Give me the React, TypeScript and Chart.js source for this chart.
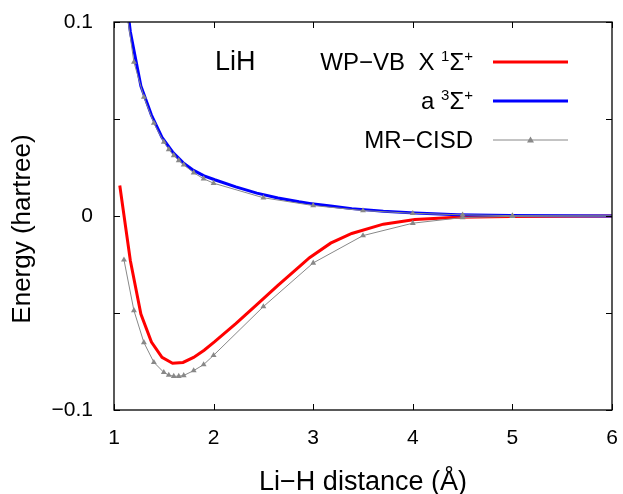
import React, { useEffect, useRef } from "react";
import { Chart, registerables } from "chart.js";

Chart.register(...registerables);

// WP-VB curves (grid in Å, from a bohr grid)
const wpvbR = [1.058, 1.164, 1.270, 1.376, 1.482, 1.588, 1.693, 1.799, 1.905, 2.011, 2.223, 2.434, 2.646, 2.858, 2.963, 3.175, 3.387, 3.704, 4.022, 4.445, 4.974, 5.503, 6.0];
const wpvbX = [0.0157, -0.0229, -0.0505, -0.065, -0.0729, -0.0759, -0.0755, -0.0729, -0.0692, -0.0648, -0.0555, -0.0457, -0.0358, -0.0262, -0.0215, -0.014, -0.009, -0.0042, -0.0018, -0.0006, -0.0002, -0.0001, 0.0];
const wpvbA = [0.14, 0.095, 0.067, 0.052, 0.0405, 0.033, 0.0275, 0.0235, 0.0207, 0.0187, 0.015, 0.0118, 0.0093, 0.0073, 0.0065, 0.0051, 0.0038, 0.0024, 0.0015, 0.0007, 0.0003, 0.0001, 0.0];

// MR-CISD reference points
const mrR = [1.1, 1.2, 1.3, 1.4, 1.5, 1.55, 1.6, 1.65, 1.7, 1.8, 1.9, 2.0, 2.5, 3.0, 3.5, 4.0, 4.5, 5.0, 6.0];
const mrX = [-0.0226, -0.0487, -0.0652, -0.0754, -0.0806, -0.082, -0.0826, -0.0826, -0.0822, -0.0797, -0.0766, -0.0718, -0.0467, -0.0242, -0.0101, -0.0037, -0.0008, -0.0002, 0.0];
const mrA = [0.115, 0.0793, 0.0613, 0.0479, 0.0381, 0.0343, 0.0312, 0.0286, 0.0264, 0.0223, 0.0192, 0.0169, 0.0094, 0.0054, 0.0028, 0.0014, 0.0006, 0.0002, 0.0];

const xTicks = [1, 2, 3, 4, 5, 6];
const yTicks = [-0.1, -0.05, 0, 0.05, 0.1];
const yTickLabels: Record<string, string> = { "-0.1": "\u22120.1", "0": "0", "0.1": "0.1" };

const FONT = "'Liberation Sans', Arial, Helvetica, sans-serif";
const RED = "#ff0000";
const BLUE = "#0000ff";
const GRAY = "#888888";

const pts = (xs: number[], ys: number[]) => xs.map((x, i) => ({ x, y: ys[i] }));

const overlay = {
  id: "overlay",
  afterDatasetsDraw(chart: any) {
    const { ctx, chartArea: a, scales } = chart;
    const xs = scales.x;
    const ys = scales.y;
    ctx.save();
    ctx.strokeStyle = "#000";
    ctx.lineWidth = 1.3;
    ctx.strokeRect(a.left, a.top, a.right - a.left, a.bottom - a.top);
    const tl = 6;
    ctx.lineWidth = 1;
    ctx.beginPath();
    xTicks.forEach((v) => {
      const p = Math.round(xs.getPixelForValue(v)) + 0.5;
      ctx.moveTo(p, a.bottom);
      ctx.lineTo(p, a.bottom - tl);
      ctx.moveTo(p, a.top);
      ctx.lineTo(p, a.top + tl);
    });
    yTicks.forEach((v) => {
      const p = Math.round(ys.getPixelForValue(v)) + 0.5;
      ctx.moveTo(a.left, p);
      ctx.lineTo(a.left + tl, p);
      ctx.moveTo(a.right, p);
      ctx.lineTo(a.right - tl, p);
    });
    ctx.stroke();

    // LiH label
    ctx.fillStyle = "#000";
    ctx.textBaseline = "alphabetic";
    ctx.textAlign = "left";
    ctx.font = `27px ${FONT}`;
    ctx.fillText("LiH", 215, 70);

    // legend
    const rightText = 473;
    const big = 24;
    const small = 15;
    const rows: { parts: { t: string; sup?: boolean }[]; y: number; color: string; w: number; marker?: boolean }[] = [
      { parts: [{ t: "WP\u2212VB  X " }, { t: "1", sup: true }, { t: "\u03A3" }, { t: "+", sup: true }], y: 62, color: RED, w: 3 },
      { parts: [{ t: "a " }, { t: "3", sup: true }, { t: "\u03A3" }, { t: "+", sup: true }], y: 101, color: BLUE, w: 3 },
      { parts: [{ t: "MR\u2212CISD" }], y: 140, color: GRAY, w: 1, marker: true },
    ];
    rows.forEach((r) => {
      let total = 0;
      r.parts.forEach((p) => {
        ctx.font = `${p.sup ? small : big}px ${FONT}`;
        total += ctx.measureText(p.t).width;
      });
      let x = rightText - total;
      const base = r.y + 8;
      r.parts.forEach((p) => {
        ctx.font = `${p.sup ? small : big}px ${FONT}`;
        ctx.fillText(p.t, x, p.sup ? base - 9 : base);
        x += ctx.measureText(p.t).width;
      });
      ctx.strokeStyle = r.color;
      ctx.lineWidth = r.w;
      ctx.beginPath();
      ctx.moveTo(493, r.y);
      ctx.lineTo(568, r.y);
      ctx.stroke();
      if (r.marker) {
        ctx.fillStyle = GRAY;
        ctx.beginPath();
        const cx = 530.5;
        const cy = r.y;
        ctx.moveTo(cx, cy - 3.5);
        ctx.lineTo(cx + 3.5, cy + 2.5);
        ctx.lineTo(cx - 3.5, cy + 2.5);
        ctx.closePath();
        ctx.fill();
        ctx.fillStyle = "#000";
      }
    });
    ctx.restore();
  },
};

const zeroPad = (s: any) => {
  s.paddingTop = 0;
  s.paddingBottom = 0;
  s.paddingLeft = 0;
  s.paddingRight = 0;
};

export default function App() {
  const ref = useRef<HTMLCanvasElement | null>(null);
  useEffect(() => {
    if (!ref.current) return;
    Chart.defaults.font.family = FONT;
    Chart.defaults.color = "#000";
    const chart = new Chart(ref.current, {
      type: "line",
      data: {
        datasets: [
          {
            label: "MR-CISD X",
            data: pts(mrR, mrX),
            borderColor: GRAY,
            backgroundColor: GRAY,
            borderWidth: 1,
            pointStyle: "triangle",
            pointRadius: (c: any) => (mrR[c.dataIndex] >= 6 ? 0 : 3.4),
            pointBorderWidth: 0,
            order: 0,
            clip: 0,
          },
          {
            label: "MR-CISD a",
            data: pts(mrR, mrA),
            borderColor: GRAY,
            backgroundColor: GRAY,
            borderWidth: 1,
            pointStyle: "triangle",
            pointRadius: (c: any) => (mrR[c.dataIndex] >= 6 ? 0 : 3.4),
            pointBorderWidth: 0,
            order: 0,
            clip: 0,
          },
          {
            label: "WP-VB a",
            data: pts(wpvbR, wpvbA),
            borderColor: BLUE,
            borderWidth: 3,
            pointRadius: 0,
            order: 1,
            clip: 0,
          },
          {
            label: "WP-VB X",
            data: pts(wpvbR, wpvbX),
            borderColor: RED,
            borderWidth: 3,
            pointRadius: 0,
            order: 2,
            clip: 0,
          },
        ],
      },
      options: {
        animation: false,
        responsive: true,
        maintainAspectRatio: false,
        layout: { padding: { top: 22, right: 11, left: 0, bottom: -5 } },
        plugins: { legend: { display: false }, tooltip: { enabled: false } },
        scales: {
          x: {
            type: "linear",
            min: 1,
            max: 6,
            afterFit: (s: any) => {
              s.height = 89;
              zeroPad(s);
            },
            afterBuildTicks: (s: any) => {
              s.ticks = xTicks.map((v) => ({ value: v }));
            },
            ticks: { font: { size: 21 }, padding: 16, color: "#000", callback: (v: any) => String(v) },
            grid: { display: false, drawTicks: false },
            border: { display: false },
            title: { display: true, text: "Li\u2212H distance (\u00C5)", font: { size: 27 }, color: "#000", padding: 0 },
          },
          y: {
            type: "linear",
            min: -0.1,
            max: 0.1,
            afterFit: (s: any) => {
              s.width = 114;
              zeroPad(s);
            },
            afterBuildTicks: (s: any) => {
              s.ticks = yTicks.map((v) => ({ value: v }));
            },
            ticks: {
              font: { size: 21 },
              padding: 21,
              color: "#000",
              callback: (v: any) => {
                const k = String(Math.round(v * 100) / 100);
                return yTickLabels[k] ?? "";
              },
            },
            grid: { display: false, drawTicks: false },
            border: { display: false },
            title: { display: true, text: "Energy (hartree)\u2002\u2002", font: { size: 26 }, color: "#000", padding: { top: 7, bottom: 0 } },
          },
        },
      },
      plugins: [overlay],
    } as any);
    return () => chart.destroy();
  }, []);
  return (
    <div style={{ position: "fixed", left: 0, top: 0, width: 623, height: 494, background: "#fff" }}>
      <canvas ref={ref} />
    </div>
  );
}
